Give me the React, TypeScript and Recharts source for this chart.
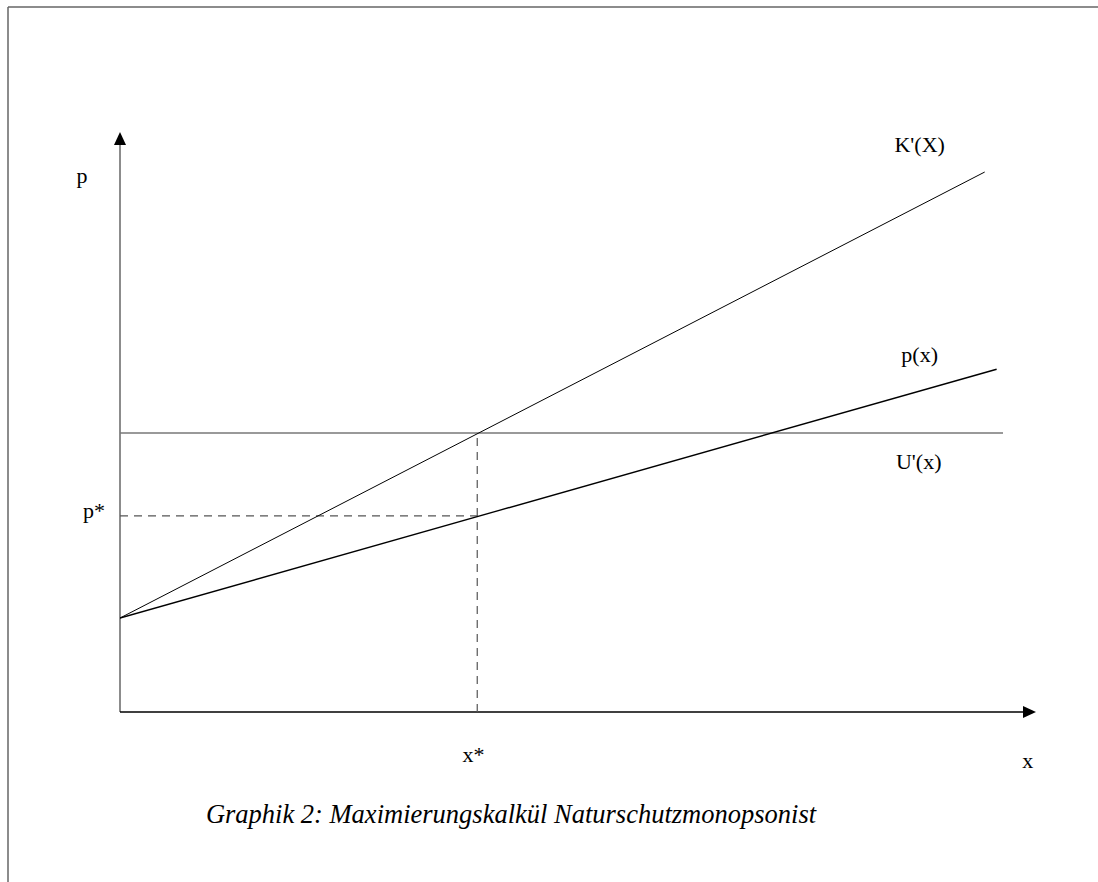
import React from "react";
import { ComposedChart, XAxis, YAxis, Line, ReferenceLine, ReferenceDot } from "recharts";

// Curves (data units: x 0..100, p 0..100)
const kPrime = [
  { x: 0, y: 16.2 },
  { x: 94.4, y: 93.1 },
];
const pOfX = [
  { x: 0, y: 16.2 },
  { x: 95.7, y: 59.1 },
];
const uPrime = [
  { x: 0, y: 48.1 },
  { x: 96.4, y: 48.1 },
];
const xStar = 39;
const pStar = 33.8;
const axisMax = { x: 100, y: 100 };

// Text labels (anchor = baseline centre, in data units)
const labels = [
  { text: "p", x: -4.15, y: 91.2 },
  { text: "p*", x: -2.84, y: 33.4 },
  { text: "K'(X)", x: 87.3, y: 96.6 },
  { text: "p(x)", x: 87.3, y: 60.3 },
  { text: "U'(x)", x: 87.2, y: 41.9 },
  { text: "x*", x: 38.6, y: -8.6 },
  { text: "x", x: 99.1, y: -9.7 },
];
const caption = "Graphik 2: Maximierungskalkül Naturschutzmonopsonist";

const FONT = "'Liberation Serif', 'Times New Roman', serif";

const ArrowUp = (props: any) => {
  const { x1, y1, x2, y2 } = props;
  const top = Math.min(y1, y2);
  return (
    <g>
      <line x1={x1} y1={Math.max(y1, y2)} x2={x1} y2={top + 6} stroke="#666" strokeWidth={1.5} />
      <polygon points={`${x1},${top} ${x1 - 6},${top + 13} ${x1 + 6},${top + 13}`} fill="#000" />
    </g>
  );
};

const ArrowRight = (props: any) => {
  const { x1, y1, x2 } = props;
  const right = Math.max(x1, x2);
  return (
    <g>
      <line x1={Math.min(x1, x2)} y1={y1} x2={right - 6} y2={y1} stroke="#000" strokeWidth={1.5} />
      <polygon points={`${right},${y1} ${right - 13},${y1 - 6} ${right - 13},${y1 + 6}`} fill="#000" />
    </g>
  );
};

export default function App() {
  return (
    <div style={{ position: "absolute", left: 0, top: 0, width: 1098, height: 882, background: "#fff" }}>
      <ComposedChart
        width={1098}
        height={882}
        margin={{ top: 132, right: 62, bottom: 170, left: 120 }}
      >
        <XAxis type="number" dataKey="x" domain={[0, axisMax.x]} hide allowDataOverflow />
        <YAxis type="number" dataKey="y" domain={[0, axisMax.y]} hide allowDataOverflow />

        <ReferenceLine
          ifOverflow="visible"
          segment={[{ x: 0, y: 0 }, { x: 0, y: axisMax.y }]}
          shape={ArrowUp}
        />
        <ReferenceLine
          ifOverflow="visible"
          segment={[{ x: 0, y: 0 }, { x: axisMax.x, y: 0 }]}
          shape={ArrowRight}
        />

        <ReferenceLine
          ifOverflow="visible"
          segment={[uPrime[0], uPrime[1]]}
          stroke="#777"
          strokeWidth={1.6}
        />
        <ReferenceLine
          ifOverflow="visible"
          segment={[{ x: xStar, y: 0 }, { x: xStar, y: uPrime[0].y }]}
          stroke="#555"
          strokeWidth={1.2}
          strokeDasharray="8 6"
        />
        <ReferenceLine
          ifOverflow="visible"
          segment={[{ x: 0, y: pStar }, { x: xStar, y: pStar }]}
          stroke="#555"
          strokeWidth={1.2}
          strokeDasharray="8 6"
        />

        <Line
          data={kPrime}
          dataKey="y"
          type="linear"
          stroke="#000"
          strokeWidth={1}
          dot={false}
          activeDot={false}
          isAnimationActive={false}
        />
        <Line
          data={pOfX}
          dataKey="y"
          type="linear"
          stroke="#000"
          strokeWidth={1.4}
          dot={false}
          activeDot={false}
          isAnimationActive={false}
        />

        {labels.map((l) => (
          <ReferenceDot
            key={l.text}
            x={l.x}
            y={l.y}
            r={1}
            ifOverflow="visible"
            shape={(p: any) => (
              <text
                x={p.cx}
                y={p.cy}
                textAnchor="middle"
                fontFamily={FONT}
                fontSize={22}
                fill="#000"
              >
                {l.text}
              </text>
            )}
          />
        ))}
      </ComposedChart>
      <svg
        width={1098}
        height={882}
        style={{ position: "absolute", left: 0, top: 0, pointerEvents: "none" }}
      >
        <line x1={8} y1={7} x2={1098} y2={7} stroke="#666" strokeWidth={1.5} />
        <line x1={8} y1={7} x2={8} y2={882} stroke="#666" strokeWidth={1.5} />
        <text
          x={511}
          y={823}
          textAnchor="middle"
          fontFamily={FONT}
          fontStyle="italic"
          fontSize={26.5}
          fill="#000"
        >
          {caption}
        </text>
      </svg>
    </div>
  );
}
